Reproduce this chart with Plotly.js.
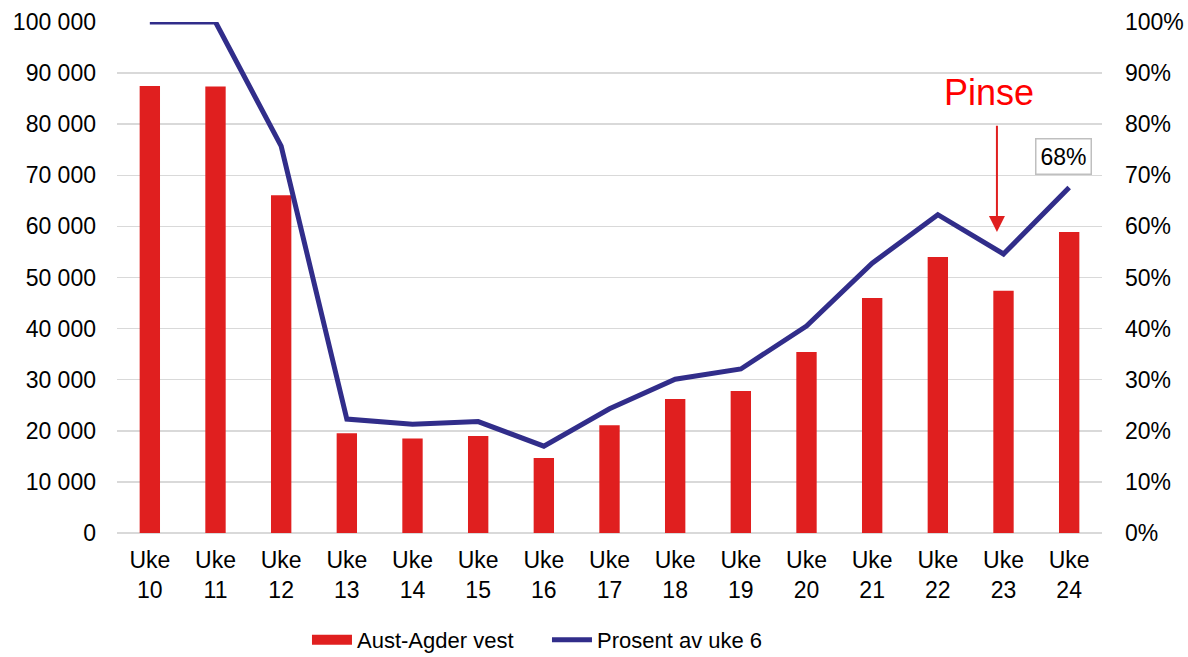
<!DOCTYPE html>
<html>
<head>
<meta charset="utf-8">
<script src="https://cdn.plot.ly/plotly-3.0.1.min.js"></script>
<style>html,body{margin:0;padding:0;background:#fff;}#chart{width:1188px;height:657px;}</style>
</head>
<body>
<div id="chart"></div>
<script>
const categories = ["Uke<br>10","Uke<br>11","Uke<br>12","Uke<br>13","Uke<br>14","Uke<br>15","Uke<br>16","Uke<br>17","Uke<br>18","Uke<br>19","Uke<br>20","Uke<br>21","Uke<br>22","Uke<br>23","Uke<br>24"];
const barValues = [87500, 87400, 66100, 19500, 18500, 19000, 14700, 21100, 26200, 27800, 35400, 46000, 54000, 47400, 58900];
const pctValues = [1.00, 1.00, 0.757, 0.223, 0.213, 0.218, 0.170, 0.243, 0.301, 0.321, 0.405, 0.528, 0.623, 0.546, 0.676];
const barName = "Aust-Agder vest";
const lineName = "Prosent av uke 6";
const leftTicks = [0,10000,20000,30000,40000,50000,60000,70000,80000,90000,100000];
const rightTicks = [0,0.1,0.2,0.3,0.4,0.5,0.6,0.7,0.8,0.9,1.0];
const pinseLabel = "Pinse";
const endLabel = "68%";

const fam = "Liberation Sans, Arial, sans-serif";
const font = {family: fam, size: 23, color: "#000"};

const traces = [
  {type: "bar", x: categories, y: barValues, name: barName, showlegend: false,
   marker: {color: "#E01F1F", line: {width: 0}}, yaxis: "y"},
  {type: "scatter", mode: "lines", x: [categories[0]], y: [null], name: barName, legendrank: 1,
   line: {color: "#E01F1F", width: 16}, yaxis: "y", hoverinfo: "skip"},
  {type: "scatter", mode: "lines", x: categories, y: pctValues, name: lineName, legendrank: 2,
   line: {color: "#312D8A", width: 5}, yaxis: "y2"}
];

const layout = {
  width: 1188, height: 657,
  margin: {l: 117, r: 86, t: 22, b: 124},
  paper_bgcolor: "#fff", plot_bgcolor: "#fff",
  separators: ", ",
  font: font,
  bargap: 0.69,
  showlegend: true,
  legend: {orientation: "h", x: 0.2584, xanchor: "left", xref: "container",
           y: 0.026, yanchor: "middle", yref: "container",
           entrywidth: 185, entrywidthmode: "pixels",
           font: {family: fam, size: 22, color: "#000"}, itemwidth: 40, traceorder: "normal"},
  xaxis: {type: "category", showgrid: false, zeroline: false, showline: false, ticks: "",
          tickfont: font, automargin: false, ticklabelstandoff: 11},
  yaxis: {range: [0, 100000], tickvals: leftTicks, tickformat: ",d", showgrid: true,
          gridcolor: "#D9D9D9", gridwidth: 1.5, zeroline: true, zerolinecolor: "#D9D9D9", zerolinewidth: 1.5,
          showline: false, ticks: "", tickfont: font, automargin: false, ticklabelstandoff: 20},
  yaxis2: {range: [0, 1], overlaying: "y", side: "right", tickvals: rightTicks, tickformat: ".0%",
           showgrid: false, zeroline: false, showline: false, ticks: "", tickfont: font,
           automargin: false, ticklabelstandoff: 22},
  annotations: [
    {x: 12.78, y: 86200, xref: "x", yref: "y", text: pinseLabel, showarrow: false,
     font: {family: fam, size: 36, color: "#FF0000"}},
    {x: 12.90, y: 58900, xref: "x", yref: "y", ax: 12.90, ay: 80000, axref: "x", ayref: "y",
     text: "", showarrow: true, arrowhead: 2, arrowsize: 1.6, arrowwidth: 2, arrowcolor: "#E01F1F"},
    {x: 13.92, y: 73600, xref: "x", yref: "y", text: endLabel, showarrow: false,
     font: {family: fam, size: 23, color: "#000"}, bgcolor: "#fff",
     bordercolor: "#BFBFBF", borderwidth: 1.5, borderpad: 4}
  ]
};

Plotly.newPlot("chart", traces, layout, {displayModeBar: false, staticPlot: true});
</script>
</body>
</html>
